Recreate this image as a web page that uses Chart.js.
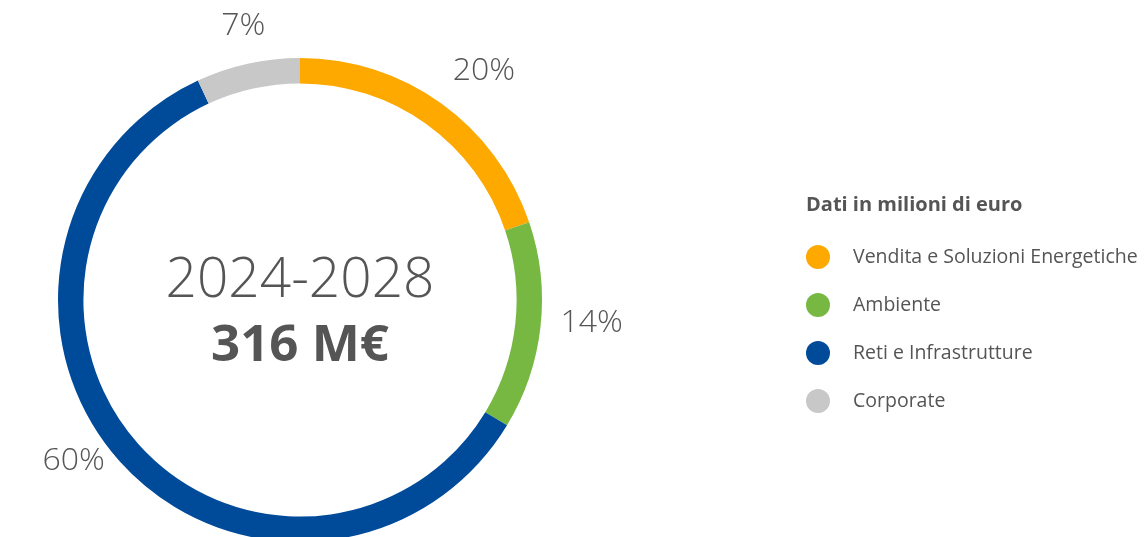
<!DOCTYPE html>
<html>
<head>
<meta charset="utf-8">
<script src="https://cdn.jsdelivr.net/npm/chart.js@4/dist/chart.umd.min.js"></script>
<style>
  html, body { margin: 0; padding: 0; background: #fff; overflow: hidden; }
  #wrap { width: 1144px; height: 600px; position: relative; }
</style>
</head>
<body>
<div id="wrap"><canvas id="invest"></canvas></div>
<script>
// data
const categories = ['Vendita e Soluzioni Energetiche', 'Ambiente', 'Reti e Infrastrutture', 'Corporate'];
const shares = [20, 14, 60, 7];
const sliceColors = ['#FDA900', '#77B843', '#004A9A', '#C8C8C8'];
const centerLines = ['2024-2028', '316 M€'];
const legendTitle = 'Dati in milioni di euro';

const TEXT = '#555555';
const FONT = '"Open Sans", sans-serif';

// percent labels outside the ring, aligned away from the ring
const outerLabels = {
    id: 'outerLabels',
    afterDatasetsDraw(chart) {
        const ctx = chart.ctx;
        const meta = chart.getDatasetMeta(0);
        ctx.save();
        ctx.font = '300 32px ' + FONT;
        ctx.fillStyle = TEXT;
        ctx.textBaseline = 'middle';
        meta.data.forEach((arc, i) => {
            const mid = (arc.startAngle + arc.endAngle) / 2;
            const r = arc.outerRadius + 20;
            const cx = Math.cos(mid), sy = Math.sin(mid);
            ctx.textAlign = Math.abs(cx) < 0.3 ? 'center' : (cx > 0 ? 'left' : 'right');
            const lift = 4 + 15 * Math.abs(sy);
            ctx.fillText(shares[i] + '%', arc.x + cx * r, arc.y + sy * r - lift);
        });
        ctx.restore();
    }
};

// year range and total in the hole
const centerText = {
    id: 'centerText',
    afterDatasetsDraw(chart) {
        const ctx = chart.ctx;
        const arc = chart.getDatasetMeta(0).data[0];
        ctx.save();
        ctx.fillStyle = TEXT;
        ctx.textAlign = 'center';
        ctx.textBaseline = 'middle';
        ctx.font = '300 55px ' + FONT;
        ctx.fillText(centerLines[0], arc.x, arc.y - 19);
        ctx.font = 'bold 51px ' + FONT;
        ctx.fillText(centerLines[1], arc.x, arc.y + 46);
        ctx.restore();
    }
};

// legend on the right, built from the chart's own labels and colours
const sideLegend = {
    id: 'sideLegend',
    afterDraw(chart) {
        const ctx = chart.ctx;
        const left = 806, top = 205, step = 48;
        ctx.save();
        ctx.fillStyle = TEXT;
        ctx.textBaseline = 'middle';
        ctx.textAlign = 'left';
        ctx.font = 'bold 20px ' + FONT;
        ctx.fillText(legendTitle, left, top);
        ctx.font = '19.5px ' + FONT;
        chart.data.labels.forEach((lab, i) => {
            const y = top + 52 + i * step;
            ctx.beginPath();
            ctx.fillStyle = chart.data.datasets[0].backgroundColor[i];
            ctx.arc(left + 12, y, 12, 0, Math.PI * 2);
            ctx.fill();
            ctx.fillStyle = TEXT;
            ctx.fillText(lab, left + 47, y);
        });
        ctx.restore();
    }
};

new Chart(document.getElementById('invest'), {
    type: 'doughnut',
    data: {
        labels: categories,
        datasets: [{
            data: shares,
            backgroundColor: sliceColors,
            borderWidth: 0,
            hoverOffset: 0
        }]
    },
    options: {
        responsive: true,
        maintainAspectRatio: false,
        animation: false,
        cutout: '89.5%',
        layout: { padding: { left: 58, right: 602, top: 58, bottom: 58 } },
        plugins: {
            legend: { display: false },
            tooltip: { enabled: false }
        }
    },
    plugins: [outerLabels, centerText, sideLegend]
});
</script>
</body>
</html>
